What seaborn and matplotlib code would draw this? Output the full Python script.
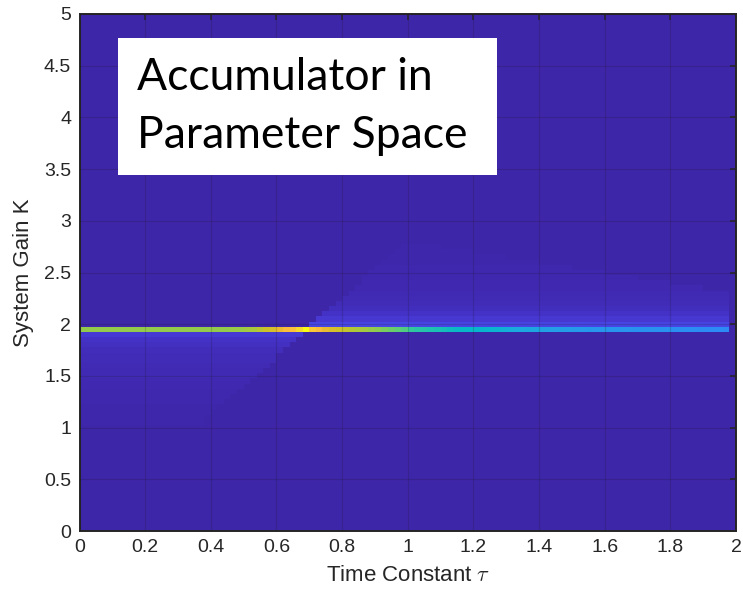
import numpy as np
import pandas as pd
import matplotlib
matplotlib.use("Agg")
import matplotlib.pyplot as plt
import seaborn as sns
from matplotlib.colors import LinearSegmentedColormap
from matplotlib.patches import Rectangle

# ---------------- data ----------------
tau_step = 0.02          # width of one accumulator cell along tau
k_step = 0.05            # height of one accumulator cell along K
n_tau = 100
n_k = 101

x_ticks = [0, 0.2, 0.4, 0.6, 0.8, 1.0, 1.2, 1.4, 1.6, 1.8, 2.0]
x_tick_labels = ["0", "0.2", "0.4", "0.6", "0.8", "1", "1.2", "1.4", "1.6", "1.8", "2"]
y_ticks = [0, 0.5, 1, 1.5, 2, 2.5, 3, 3.5, 4, 4.5, 5]
y_tick_labels = ["0", "0.5", "1", "1.5", "2", "2.5", "3", "3.5", "4", "4.5", "5"]

# accumulator level along the bright ridge K = 1.95, one value per tau cell
line_K = 1.95
line_level = [
    0.68, 0.68, 0.68, 0.68, 0.68, 0.68, 0.68, 0.68, 0.68, 0.68,
    0.68, 0.68, 0.68, 0.68, 0.68, 0.68, 0.68, 0.68, 0.68, 0.68,
    0.68, 0.68, 0.68, 0.69, 0.69, 0.70, 0.71, 0.73, 0.75, 0.77,
    0.80, 0.84, 0.86, 0.93, 1.00, 0.88, 0.84, 0.80, 0.77, 0.755,
    0.74, 0.725, 0.71, 0.70, 0.685, 0.67, 0.65, 0.63, 0.61, 0.59,
    0.55, 0.53, 0.52, 0.51, 0.50, 0.49, 0.47, 0.46, 0.455, 0.45,
    0.445, 0.44, 0.435, 0.43, 0.42, 0.40, 0.39, 0.385, 0.38, 0.375,
    0.36, 0.355, 0.35, 0.345, 0.34, 0.335, 0.33, 0.325, 0.32, 0.318,
    0.316, 0.314, 0.312, 0.31, 0.308, 0.306, 0.304, 0.302, 0.30, 0.298,
    0.296, 0.294, 0.292, 0.29, 0.288, 0.286, 0.284, 0.282, 0.28, 0.0,
]

# faint wedge below the ridge (small tau): each row runs from tau = 0 to its end
lower_rows_K = [1.90, 1.85, 1.80, 1.75, 1.70, 1.65, 1.60, 1.55, 1.50, 1.45,
                1.40, 1.35, 1.30, 1.25, 1.20, 1.15, 1.10, 1.05, 1.00]
lower_rows_end = [0.68, 0.66, 0.64, 0.62, 0.60, 0.59, 0.57, 0.55, 0.53, 0.51,
                  0.49, 0.48, 0.46, 0.44, 0.42, 0.40, 0.38, 0.37, 0.35]
lower_rows_level = [0.070, 0.045, 0.036, 0.031, 0.027, 0.024, 0.021, 0.019, 0.017, 0.015,
                    0.013, 0.011, 0.009, 0.008, 0.007, 0.006, 0.005, 0.004, 0.003]

# faint wedge above the ridge (large tau): each row runs from its start to its end
upper_rows_K = [2.00, 2.05, 2.10, 2.15, 2.20, 2.25, 2.30, 2.35, 2.40, 2.45,
                2.50, 2.55, 2.60, 2.65, 2.70, 2.75]
upper_rows_start = [0.70, 0.72, 0.74, 0.76, 0.77, 0.79, 0.81, 0.83, 0.85, 0.86,
                    0.88, 0.90, 0.92, 0.94, 0.95, 0.97]
upper_rows_end = [1.98, 1.98, 1.98, 1.98, 1.98, 1.98, 1.98, 1.90, 1.80, 1.70,
                  1.60, 1.50, 1.40, 1.30, 1.20, 1.10]
upper_rows_level = [0.100, 0.065, 0.045, 0.033, 0.026, 0.021, 0.017, 0.014, 0.012, 0.010,
                    0.009, 0.008, 0.007, 0.006, 0.005, 0.004]

# ---------------- build the accumulator grid ----------------
tau_left = np.arange(n_tau) * tau_step
Z = np.zeros((n_k, n_tau))


def row_of(K):
    return int(round(K / k_step))


for K, end, lev in zip(lower_rows_K, lower_rows_end, lower_rows_level):
    Z[row_of(K), tau_left < end - 1e-9] = lev
for K, start, end, lev in zip(upper_rows_K, upper_rows_start, upper_rows_end, upper_rows_level):
    Z[row_of(K), (tau_left >= start - 1e-9) & (tau_left < end - 1e-9)] = lev
Z[row_of(line_K), :] = line_level

grid = pd.DataFrame(Z, index=np.round(np.arange(n_k) * k_step, 3),
                    columns=np.round(tau_left, 3))

# parula-like colormap
parula_anchors = [
    (0.243, 0.150, 0.660), (0.270, 0.200, 0.790), (0.280, 0.270, 0.900),
    (0.275, 0.340, 0.960), (0.250, 0.420, 0.990), (0.200, 0.500, 0.990),
    (0.160, 0.570, 0.940), (0.140, 0.620, 0.900), (0.090, 0.680, 0.860),
    (0.020, 0.720, 0.790), (0.100, 0.750, 0.710), (0.210, 0.780, 0.610),
    (0.340, 0.800, 0.490), (0.480, 0.800, 0.370), (0.630, 0.790, 0.260),
    (0.790, 0.760, 0.160), (0.920, 0.730, 0.200), (0.990, 0.740, 0.240),
    (0.990, 0.800, 0.200), (0.960, 0.890, 0.160), (0.977, 0.984, 0.081),
]
parula = LinearSegmentedColormap.from_list("parula", parula_anchors, N=256)

# ---------------- figure ----------------
sns.set_theme(style="white")
plt.rcParams["font.family"] = ["Liberation Sans", "DejaVu Sans"]
plt.rcParams["mathtext.fontset"] = "cm"

W, H = 743, 596
fig = plt.figure(figsize=(W / 100, H / 100), dpi=100)
ax_l, ax_r, ax_t, ax_b = 79.5, 736.0, 14.0, 531.0
ax = fig.add_axes([ax_l / W, 1 - ax_b / H, (ax_r - ax_l) / W, (ax_b - ax_t) / H])

sns.heatmap(grid, cmap=parula, vmin=0, vmax=1, cbar=False, ax=ax,
            xticklabels=False, yticklabels=False)

ax.set_xlim(0, 2.0 / tau_step)
ax.set_ylim(0 / k_step + 0.5, 5 / k_step + 0.5)
ax.set_xticks([t / tau_step for t in x_ticks])
ax.set_xticklabels(x_tick_labels)
ax.set_yticks([k / k_step + 0.5 for k in y_ticks])
ax.set_yticklabels(y_tick_labels, rotation=0)

dark = "#262626"
for s in ax.spines.values():
    s.set_visible(True)
    s.set_color(dark)
    s.set_linewidth(1.4)
ax.tick_params(axis="both", direction="in", top=True, right=True, length=4.5,
               width=1.1, color=dark, labelcolor=dark, labelsize=14, pad=6)
ax.grid(True, color="#1a1a1a", alpha=0.18, linewidth=0.8)
ax.set_axisbelow(False)

ax.set_xlabel(r"Time Constant $\tau$", fontsize=16, color=dark, labelpad=6)
ax.set_ylabel("System Gain K", fontsize=16, color=dark, labelpad=7)

# annotation box
def fx(px):
    return (px - ax_l) / (ax_r - ax_l)


def fy(py):
    return (ax_b - py) / (ax_b - ax_t)


ax.add_patch(Rectangle((fx(118), fy(175)), fx(497) - fx(118), fy(38) - fy(175),
                       transform=ax.transAxes, facecolor="white", edgecolor="none",
                       zorder=5))
ax.text(fx(137), fy(78), "Accumulator in", transform=ax.transAxes, fontsize=32,
        family=["Lato", "DejaVu Sans"], color="black", va="center", ha="left", zorder=6)
ax.text(fx(137), fy(136), "Parameter Space", transform=ax.transAxes, fontsize=32,
        family=["Lato", "DejaVu Sans"], color="black", va="center", ha="left", zorder=6)

fig.savefig("out.png", dpi=100)
